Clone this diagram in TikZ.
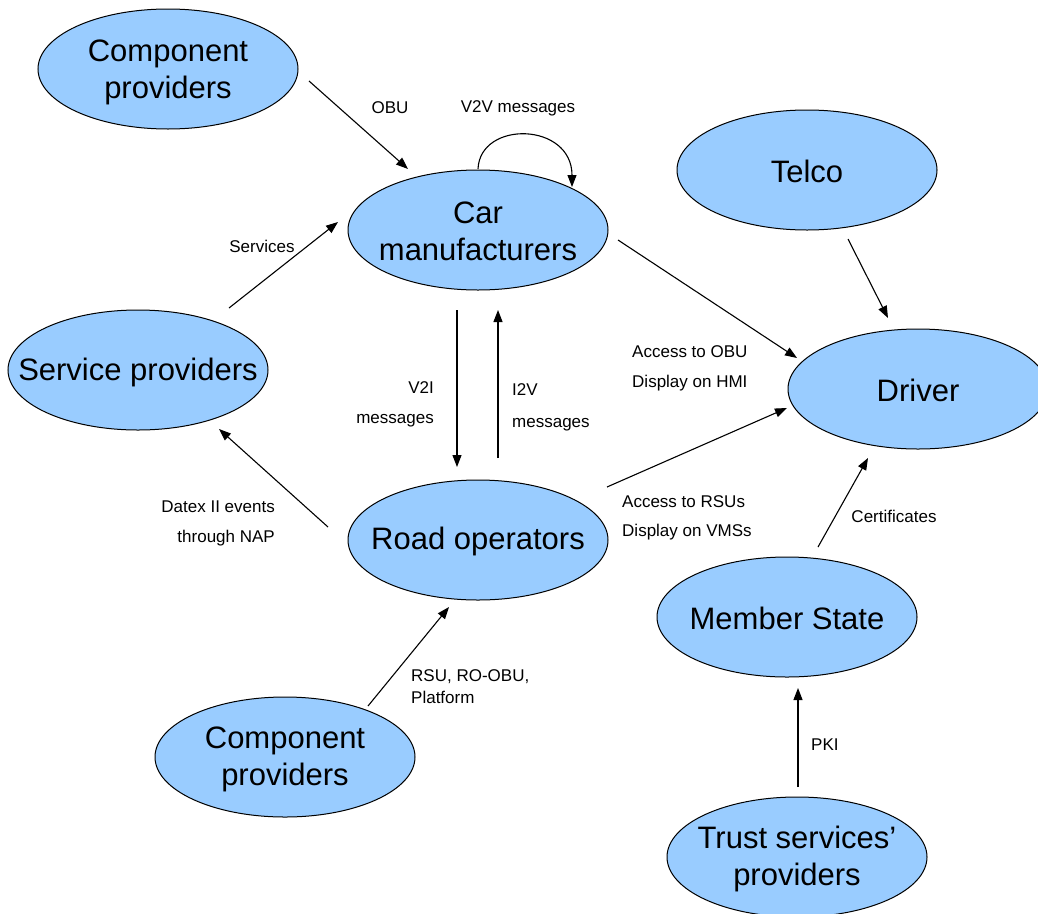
\documentclass[tikz,border=0pt]{standalone}
\usepackage{fontspec}
\setmainfont{Liberation Sans}
\usetikzlibrary{shapes.geometric,arrows.meta}
\definecolor{ellfill}{HTML}{99CCFF}
\tikzset{
  ell/.style={ellipse, draw=black, line width=1pt, fill=ellfill, minimum width=260pt, minimum height=120pt, inner sep=0pt},
  etext/.style={align=center, inner sep=0pt, font=\fontsize{31}{37}\selectfont},
  conn/.style={line width=1.1pt, -{Triangle[length=12pt,width=9pt]}},
  lbl/.style={font=\fontsize{17}{30}\selectfont, inner sep=0pt}
}
\begin{document}
\begin{tikzpicture}[x=1pt,y=-1pt]
\useasboundingbox (0,0) rectangle (1038,913);
\clip (0,0) rectangle (1038,913);
% nodes
\node[ell, label={[etext, yshift=-3pt]center:{Component\\providers}}] (cptop) at (168,69) {};
\node[ell, label={[etext, yshift=-1pt]center:{Car\\manufacturers}}] (car) at (478,230) {};
\node[ell, label={[etext, yshift=-1pt]center:{Telco}}] (telco) at (807,170) {};
\node[ell, label={[etext, yshift=-2pt]center:{Service providers}}] (serv) at (138,370) {};
\node[ell, label={[etext, yshift=-1pt]center:{Driver}}] (driver) at (918,389) {};
\node[ell, label={[etext, yshift=-1pt]center:{Road operators}}] (road) at (478,540) {};
\node[ell, label={[etext, yshift=-1pt]center:{Member State}}] (member) at (787,617) {};
\node[ell, label={[etext, yshift=-2pt]center:{Component\\providers}}] (cpbot) at (285,757) {};
\node[ell, label={[etext, yshift=-2pt]center:{Trust services’\\providers}}] (trust) at (797,857) {};
% connector end points
\coordinate (cptopS) at (309,81);   \coordinate (carA) at (408,169);
\coordinate (loopS) at (478,169);   \coordinate (loopE) at (572,187);
\coordinate (servS) at (229,308);   \coordinate (carB) at (338,222);
\coordinate (carS) at (618,240);    \coordinate (drvA) at (797,358);
\coordinate (telS) at (848,239);    \coordinate (drvB) at (888,318);
\coordinate (carV) at (457,310);    \coordinate (roadA) at (457,467);
\coordinate (roadI) at (498,458);   \coordinate (carC) at (498,310);
\coordinate (roadS) at (328,527);   \coordinate (servA) at (219,429);
\coordinate (roadD) at (607,487);   \coordinate (drvC) at (787,408);
\coordinate (memS) at (818,547);    \coordinate (drvD) at (868,458);
\coordinate (cpbS) at (368,706);    \coordinate (roadB) at (449,607);
\coordinate (trS) at (798,787);     \coordinate (memA) at (798,688);
% connectors
\draw[conn] (cptopS) -- (carA);
\draw[conn] (loopS) .. controls (480,120) and (572,122) .. (loopE);
\draw[conn] (servS) -- (carB);
\draw[conn] (carS) -- (drvA);
\draw[conn] (telS) -- (drvB);
\draw[conn] (carV) -- (roadA);
\draw[conn] (roadI) -- (carC);
\draw[conn] (roadS) -- (servA);
\draw[conn] (roadD) -- (drvC);
\draw[conn] (memS) -- (drvD);
\draw[conn] (cpbS) -- (roadB);
\draw[conn] (trS) -- (memA);
% labels
\node[lbl] (lobu) at (390,108) {OBU};
\node[lbl] (lv2v) at (518,108) {V2V messages};
\node[lbl] (lserv) at (262,246) {Services};
\node[lbl, anchor=east, align=right] (lv2i) at (434,404) {V2I\\messages};
\node[lbl, anchor=west, align=left, font=\fontsize{17}{32}\selectfont] (li2v) at (512,407) {I2V\\messages};
\node[lbl, anchor=west, align=left] (lobuacc) at (632,368) {Access to OBU\\Display on HMI};
\node[lbl, anchor=west, align=left, font=\fontsize{17}{29}\selectfont] (lrsu) at (622,518) {Access to RSUs\\Display on VMSs};
\node[lbl, anchor=east, align=right] (ldatex) at (275,523) {Datex II events\\through NAP};
\node[lbl, anchor=west, align=left, font=\fontsize{17}{22}\selectfont] (lrsuro) at (411,687) {RSU, RO-OBU,\\Platform};
\node[lbl] (lcert) at (894,516) {Certificates};
\node[lbl, anchor=west] (lpki) at (811,745) {PKI};
\end{tikzpicture}
\end{document}
